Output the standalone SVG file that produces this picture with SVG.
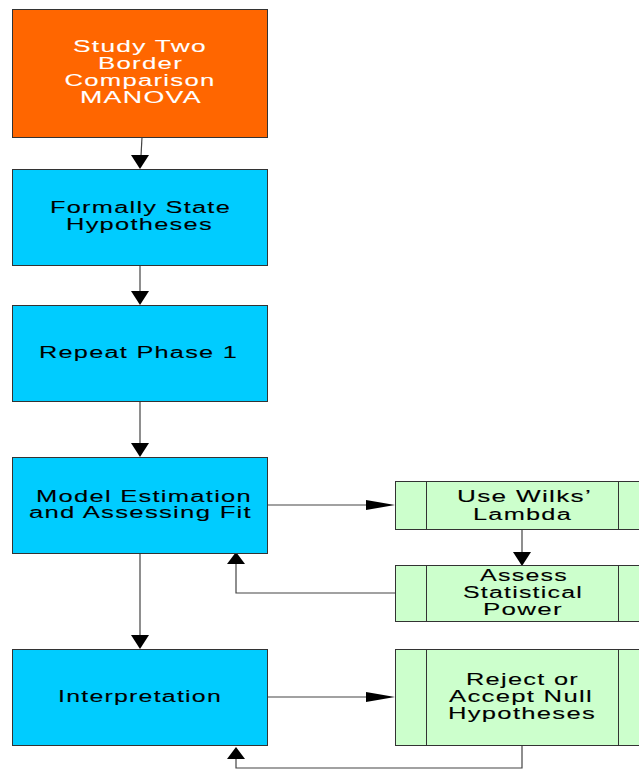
<svg xmlns="http://www.w3.org/2000/svg" width="639" height="770" viewBox="0 0 639 770">
  <style>
    .box { stroke: #333333; stroke-width: 1; }
    .start { fill: #FF6600; }
    .step { fill: #00CCFF; }
    .sub { fill: #CCFFCC; }
    .divider { stroke: #333333; stroke-width: 1; fill: none; }
    .lbl { font-family: "Liberation Sans", Arial, sans-serif; font-size: 16px; letter-spacing: 0.8px; text-anchor: middle; fill: #000000; stroke: #000000; stroke-width: 0.1px; }
    .lbl.light { fill: #FFFFFF; stroke: #FFFFFF; }
    .wire { stroke: #444444; stroke-width: 1.2; fill: none; }
    .head { fill: #000000; stroke: none; }
  </style>

  <rect width="639" height="770" fill="#FFFFFF"/>

  <!-- connectors -->
  <g id="connectors">
    <line class="wire" x1="142" y1="137" x2="141" y2="156"/>
    <polygon class="head" points="131,155 149,155 140,169"/>

    <line class="wire" x1="140" y1="265" x2="140" y2="292"/>
    <polygon class="head" points="131,291 149,291 140,305"/>

    <line class="wire" x1="140" y1="401" x2="140" y2="444"/>
    <polygon class="head" points="131,443 149,443 140,457"/>

    <line class="wire" x1="140" y1="553" x2="140" y2="636"/>
    <polygon class="head" points="131,635 149,635 140,649"/>

    <line class="wire" x1="267" y1="505" x2="368" y2="505"/>
    <polygon class="head" points="366,500 366,510 395,505"/>

    <line class="wire" x1="522" y1="529" x2="522" y2="553"/>
    <polygon class="head" points="513,552 531,552 522,566"/>

    <polyline class="wire" points="395,593 236,593 236,563"/>
    <polygon class="head" points="227,564 245,564 236,552"/>

    <line class="wire" x1="267" y1="697" x2="368" y2="697"/>
    <polygon class="head" points="366,692 366,702 395,697"/>

    <polyline class="wire" points="522,746 522,768 236,768 236,758"/>
    <polygon class="head" points="227,759 245,759 236,747"/>
  </g>

  <!-- start node -->
  <g id="study-two">
    <rect class="box start" x="12.5" y="9.5" width="255" height="128"/>
    <text class="lbl light" x="140" y="52" textLength="134" lengthAdjust="spacingAndGlyphs">Study Two</text>
    <text class="lbl light" x="140.5" y="69" textLength="85" lengthAdjust="spacingAndGlyphs">Border</text>
    <text class="lbl light" x="140" y="86" textLength="151" lengthAdjust="spacingAndGlyphs">Comparison</text>
    <text class="lbl light" x="141" y="103" textLength="122" lengthAdjust="spacingAndGlyphs">MANOVA</text>
  </g>

  <g id="hypotheses">
    <rect class="box step" x="12.5" y="169.5" width="255" height="96"/>
    <text class="lbl" x="140.5" y="213" textLength="181" lengthAdjust="spacingAndGlyphs">Formally State</text>
    <text class="lbl" x="139.5" y="230" textLength="147" lengthAdjust="spacingAndGlyphs">Hypotheses</text>
  </g>

  <g id="repeat-phase">
    <rect class="box step" x="12.5" y="305.5" width="255" height="96"/>
    <text class="lbl" x="138.5" y="358" textLength="199" lengthAdjust="spacingAndGlyphs">Repeat Phase 1</text>
  </g>

  <g id="model-estimation">
    <rect class="box step" x="12.5" y="457.5" width="255" height="96"/>
    <text class="lbl" x="144" y="502" textLength="216" lengthAdjust="spacingAndGlyphs">Model Estimation</text>
    <text class="lbl" x="140.5" y="518" textLength="223" lengthAdjust="spacingAndGlyphs">and Assessing Fit</text>
  </g>

  <g id="interpretation">
    <rect class="box step" x="12.5" y="649.5" width="255" height="96"/>
    <text class="lbl" x="140" y="702" textLength="164" lengthAdjust="spacingAndGlyphs">Interpretation</text>
  </g>

  <!-- predefined-process nodes -->
  <g id="wilks-lambda">
    <rect class="box sub" x="395.5" y="481.5" width="255" height="48"/>
    <line class="divider" x1="426.5" y1="481.5" x2="426.5" y2="529.5"/>
    <line class="divider" x1="618.5" y1="481.5" x2="618.5" y2="529.5"/>
    <text class="lbl" x="524.5" y="502" textLength="135" lengthAdjust="spacingAndGlyphs">Use Wilks’</text>
    <text class="lbl" x="522.5" y="520" textLength="99" lengthAdjust="spacingAndGlyphs">Lambda</text>
  </g>

  <g id="statistical-power">
    <rect class="box sub" x="395.5" y="565.5" width="255" height="56"/>
    <line class="divider" x1="426.5" y1="565.5" x2="426.5" y2="621.5"/>
    <line class="divider" x1="618.5" y1="565.5" x2="618.5" y2="621.5"/>
    <text class="lbl" x="524" y="581" textLength="88" lengthAdjust="spacingAndGlyphs">Assess</text>
    <text class="lbl" x="523" y="598" textLength="120" lengthAdjust="spacingAndGlyphs">Statistical</text>
    <text class="lbl" x="523" y="615" textLength="80" lengthAdjust="spacingAndGlyphs">Power</text>
  </g>

  <g id="null-hypotheses">
    <rect class="box sub" x="395.5" y="649.5" width="255" height="96"/>
    <line class="divider" x1="426.5" y1="649.5" x2="426.5" y2="745.5"/>
    <line class="divider" x1="618.5" y1="649.5" x2="618.5" y2="745.5"/>
    <text class="lbl" x="522.5" y="685" textLength="113" lengthAdjust="spacingAndGlyphs">Reject or</text>
    <text class="lbl" x="521" y="702" textLength="144" lengthAdjust="spacingAndGlyphs">Accept Null</text>
    <text class="lbl" x="522" y="719" textLength="148" lengthAdjust="spacingAndGlyphs">Hypotheses</text>
  </g>
</svg>
